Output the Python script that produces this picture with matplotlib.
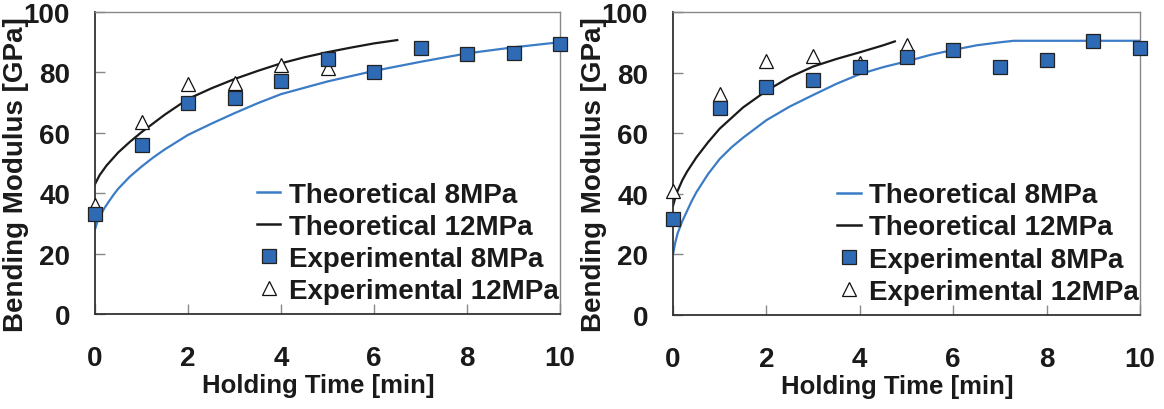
import matplotlib
matplotlib.use("Agg")
import matplotlib.pyplot as plt
from matplotlib.lines import Line2D

# ---------------- data ----------------
exp_t = [0, 1, 2, 3, 4, 5, 6, 7, 8, 9, 10]
tri_t = [0, 1, 2, 3, 4, 5]

# left panel
L_exp8 = [33, 56, 70, 71.5, 77, 84.5, 80, 88, 86, 86.5, 89.5]
L_exp12 = [36, 63.5, 76, 76.5, 82.5, 81.5]
L_th8_t = [0, 0.05, 0.1, 0.2, 0.3, 0.4, 0.5, 0.75, 1, 1.25, 1.5, 2, 2.5, 3, 3.5, 4, 5, 6, 7, 8, 9, 10]
L_th8_v = [28, 30.5, 32.2, 35, 37.3, 39.5, 41.5, 45.5, 48.8, 51.8, 54.5, 59.3, 63, 66.5, 69.8, 72.8, 77, 80.5, 83.5, 86.3, 88.3, 90]
L_th12_t = [0, 0.1, 0.25, 0.5, 0.75, 1, 1.5, 2, 2.5, 3, 3.5, 4, 4.5, 5, 5.5, 6, 6.5]
L_th12_v = [43, 46, 49.2, 53.5, 57, 60.2, 66, 71.2, 74.7, 77.8, 80.5, 83, 85, 86.7, 88.2, 89.6, 90.7]

# right panel
R_exp8 = [31.8, 68.4, 75.4, 77.6, 82, 85.1, 87.5, 82, 84, 90.3, 88.1]
R_exp12 = [40.8, 72.8, 83.9, 85.6, 83.3, 89]
R_th8_t = [0, 0.05, 0.1, 0.2, 0.3, 0.4, 0.5, 0.75, 1, 1.25, 1.5, 2, 2.5, 3, 3.5, 4, 4.5, 5, 5.5, 6, 6.5, 7, 7.3, 8, 9, 10]
R_th8_v = [20, 24, 27, 31, 34.3, 37.6, 40.5, 46.5, 51.5, 55.3, 58.5, 64.3, 68.8, 72.6, 76.3, 79.5, 81.8, 83.7, 85.8, 87.5, 89, 90, 90.5, 90.5, 90.5, 90.5]
R_th12_t = [0, 0.05, 0.1, 0.2, 0.3, 0.5, 0.75, 1, 1.5, 2, 2.5, 3, 3.5, 4, 4.5, 4.75]
R_th12_v = [36, 38.8, 41, 44.5, 47.3, 52, 57, 61.5, 68.5, 74, 78.5, 82, 84.5, 86.7, 89, 90.3]

x_ticks = [0, 2, 4, 6, 8, 10]
y_ticks = [0, 20, 40, 60, 80, 100]
labels = ["Theoretical 8MPa", "Theoretical 12MPa", "Experimental 8MPa", "Experimental 12MPa"]

# ---------------- style ----------------
FONT = "Liberation Sans"
BLUE_LINE = "#3c7cc6"
BLUE_FILL = "#2f6ab4"
plt.rcParams["font.family"] = [FONT, "DejaVu Sans"]

fig = plt.figure(figsize=(11.64, 4.10), dpi=100)
ax1 = fig.add_axes([95 / 1164, 1 - 315 / 410, 465 / 1164, 302 / 410])
ax2 = fig.add_axes([673 / 1164, 1 - 316 / 410, 467 / 1164, 303 / 410])

panels = [
    (ax1, L_th8_t, L_th8_v, L_th12_t, L_th12_v, L_exp8, L_exp12, 0.348),
    (ax2, R_th8_t, R_th8_v, R_th12_t, R_th12_v, R_exp8, R_exp12, 0.351),
]

for ax, t8, v8, t12, v12, e8, e12, legx in panels:
    ax.plot(t8, v8, color=BLUE_LINE, lw=1.6, zorder=2)
    ax.plot(t12, v12, color="#1a1a1a", lw=1.6, zorder=2)
    ax.plot(tri_t, e12, ls="none", marker="^", ms=10.5, mfc="white", mec="#111111",
            mew=0.9, zorder=3, clip_on=False)
    ax.plot(exp_t, e8, ls="none", marker="s", ms=9.6, mfc=BLUE_FILL, mec="#222222",
            mew=0.9, zorder=4, clip_on=False)

    ax.set_xlim(0, 10)
    ax.set_ylim(0, 100)
    ax.set_xticks(x_ticks)
    ax.set_yticks(y_ticks)
    ax.tick_params(axis="both", direction="in", length=7, width=1, color="#888888",
                   labelsize=20, labelcolor="#1a1a1a")
    ax.tick_params(axis="x", pad=22)
    ax.tick_params(axis="y", pad=18)
    for lab in ax.get_xticklabels() + ax.get_yticklabels():
        lab.set_fontweight("bold")
    for s in ["left", "bottom"]:
        ax.spines[s].set_color("#333333")
        ax.spines[s].set_linewidth(1.3)
    for s in ["top", "right"]:
        ax.spines[s].set_color("#888888")
        ax.spines[s].set_linewidth(1.0)

    ax.set_xlabel("Holding Time [min]", fontsize=18.5, fontweight="bold", color="#1a1a1a")
    ax.set_ylabel("Bending Modulus [GPa]", fontsize=20, fontweight="bold", color="#1a1a1a")
    ax.xaxis.set_label_coords(0.48, -0.235)
    ax.yaxis.set_label_coords(-0.170, 0.465)
    ax.xaxis.label.set_va("center")
    ax.yaxis.label.set_va("center")

    handles = [
        Line2D([], [], color=BLUE_LINE, lw=1.8),
        Line2D([], [], color="#1a1a1a", lw=1.8),
        Line2D([], [], ls="none", marker="s", ms=9.6, mfc=BLUE_FILL, mec="#222222", mew=0.9),
        Line2D([], [], ls="none", marker="^", ms=10, mfc="white", mec="#111111", mew=0.9),
    ]
    leg = ax.legend(handles, labels, loc="upper left", bbox_to_anchor=(legx, 0.438),
                    frameon=False, handlelength=0.85, handletextpad=0.3,
                    labelspacing=0.22, borderpad=0, borderaxespad=0,
                    prop={"family": FONT, "weight": "bold", "size": 20})
    for txt in leg.get_texts():
        txt.set_color("#1a1a1a")

fig.savefig("out.png", dpi=100)
